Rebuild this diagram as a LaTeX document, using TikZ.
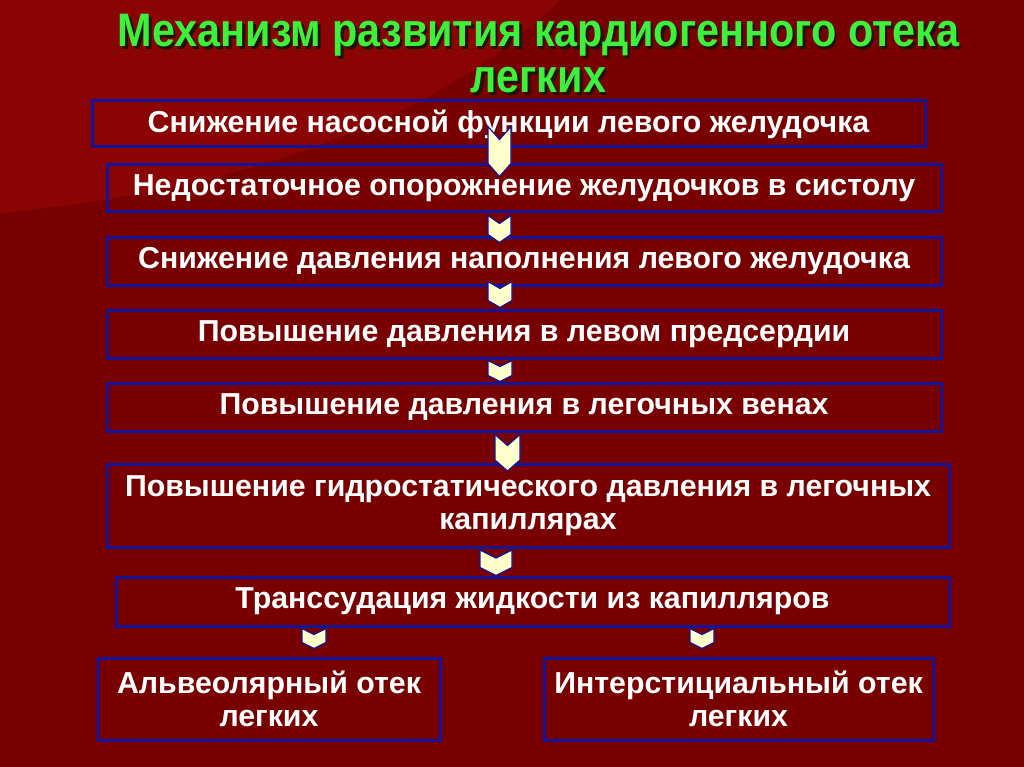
\documentclass[tikz,border=0pt]{standalone}
\usepackage{fontspec}
\setmainfont{Liberation Sans}
\newfontfamily\titlefont[FakeStretch=0.88]{Liberation Sans}
\usetikzlibrary{positioning}
\usetikzlibrary{calc}

\definecolor{bgdark}{HTML}{780000}
\definecolor{bglight}{HTML}{8A0404}
\definecolor{boxblue}{HTML}{14149A}
\definecolor{chevfill}{HTML}{FFFFCC}
\definecolor{titlegreen}{HTML}{3CF03C}
\definecolor{titleshade}{HTML}{1E1400}

\tikzset{
	stage/.style = {draw = boxblue, line width = 3pt, rectangle, text = white, align = center,
		inner sep = 0pt, font = \bfseries\fontsize{30.3}{33}\selectfont},
	chev/.style = {draw = boxblue, line width = 1.2pt, fill = chevfill, line join = miter},
	headline/.style = {align = center, font = \titlefont\bfseries\fontsize{47}{46}\selectfont}
}

% #1 from, #2 to, #3 x, #4 half width, #5 notch, #6 top lift, #7 tip drop
\newcommand{\chevron}[7]{%
	\coordinate (ct) at ($ (#1.south -| #3,0) + (0,{-(#6)}) $);
	\coordinate (cb) at ($ (#2.north -| #3,0) + (0,{#7}) $);
	\draw[chev] ($ (ct)+(-#4,0) $) -- ($ (ct)+(0,#5) $) -- ($ (ct)+(#4,0) $)
		-- ($ (cb)+(#4,-#5) $) -- (cb) -- ($ (cb)+(-#4,-#5) $) -- cycle;
}

\begin{document}
\begin{tikzpicture}[x = 1pt, y = -1pt]
		\useasboundingbox (0,0) rectangle (1024,767);
		\fill[bgdark] (0,0) rectangle (1024,767);
		\fill[bglight] (0,0) -- (560,0) .. controls (470,90) and (300,185) .. (0,213) -- cycle;

		\node[headline, text = titleshade] at (541,56.5) (shade) {Механизм развития кардиогенного отека\\легких};
		\node[headline, text = titlegreen] at (538.5,54) (title) {Механизм развития кардиогенного отека\\легких};

		\node[stage, minimum width = 833pt, minimum height = 46pt] at (508.5,124) (b1)
		{Снижение насосной функции левого желудочка};
		\node[stage, minimum width = 834pt, minimum height = 47pt] at (524,188.5) (b2)
		{Недостаточное опорожнение желудочков в систолу};
		\node[stage, below = 22pt of b2, minimum width = 834pt, minimum height = 48pt] (b3)
		{Снижение давления наполнения левого желудочка};
		\node[stage, below = 22pt of b3, minimum width = 834pt, minimum height = 48pt] (b4)
		{Повышение давления в левом предсердии};
		\node[stage, below = 22pt of b4, minimum width = 834pt, minimum height = 48pt] (b5)
		{Повышение давления в легочных венах};
		\node[stage, minimum width = 842pt, minimum height = 83pt] at (528,506) (b6)
		{Повышение гидростатического давления в легочных\\капиллярах};
		\node[stage, minimum width = 833pt, minimum height = 49pt] at (532.5,601.5) (b7)
		{Транссудация жидкости из капилляров};
		\node[stage, minimum width = 342pt, minimum height = 82pt] at (269,699) (b8)
		{Альвеолярный отек\\легких};
		\node[stage, minimum width = 389pt, minimum height = 82pt] at (738.5,699) (b9)
		{Интерстициальный отек\\легких};

		\chevron{b1}{b2}{499.5}{11.5}{13}{22}{13}
		\chevron{b2}{b3}{499.5}{11.5}{8}{-2}{7}
		\chevron{b3}{b4}{500}{12}{7}{5}{-1}
		\chevron{b4}{b5}{500}{12}{6}{-1}{0}
		\chevron{b5}{b6}{507.5}{12.5}{11}{-2}{8}
		\chevron{b6}{b7}{496}{16}{8}{-1}{0}
		\chevron{b7}{b8}{314}{12}{6}{-1}{-8}
		\chevron{b7}{b9}{702}{12}{6}{-1}{-8}
	\end{tikzpicture}
\end{document}
